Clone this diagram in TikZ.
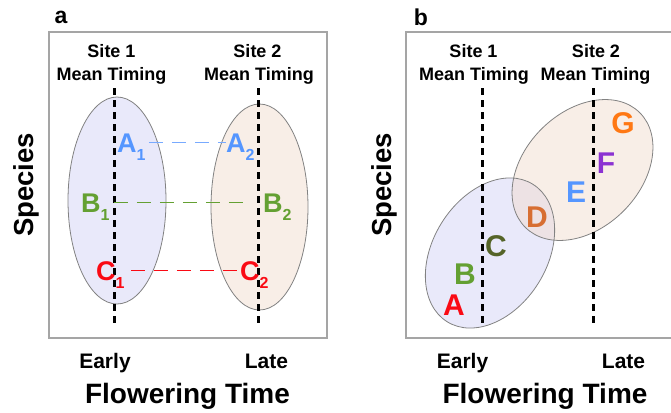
\documentclass[tikz,border=0pt]{standalone}
\usepackage{fontspec}
\setmainfont{Liberation Sans}
\definecolor{boxgray}{RGB}{165,165,165}
\definecolor{ellgray}{RGB}{130,130,130}
\definecolor{bluefill}{RGB}{233,233,250}
\definecolor{orangefill}{RGB}{248,238,231}
\definecolor{orangebase}{RGB}{241,221,207}
\definecolor{cA}{RGB}{85,150,255}
\definecolor{cAline}{RGB}{120,170,255}
\definecolor{cB}{RGB}{100,160,50}
\definecolor{cR}{RGB}{250,10,20}
\definecolor{cC}{RGB}{85,100,40}
\definecolor{cD}{RGB}{215,110,50}
\definecolor{cE}{RGB}{85,150,255}
\definecolor{cF}{RGB}{140,50,210}
\definecolor{cG}{RGB}{255,120,20}
\newcommand{\sbs}[1]{\raisebox{-8pt}{\fontsize{16}{16}\selectfont #1}}
\begin{document}
\begin{tikzpicture}[x=1pt,y=-1pt,
  panelbox/.style={draw=boxgray, line width=1.2pt},
  ellborder/.style={draw=ellgray, line width=0.8pt},
  meanline/.style={line width=3pt, dash pattern=on 7pt off 5pt},
  link/.style={line width=1.6pt, dash pattern=on 14pt off 9pt},
  paneltag/.style={inner sep=0pt, font=\fontsize{23}{23}\selectfont\bfseries},
  sitelbl/.style={inner sep=0pt, anchor=base, font=\fontsize{18}{18}\selectfont\bfseries},
  axlbl/.style={inner sep=0pt, anchor=base, font=\fontsize{21}{21}\selectfont\bfseries},
  axtitle/.style={inner sep=0pt, anchor=base, font=\fontsize{28}{28}\selectfont\bfseries},
  sptitle/.style={inner sep=0pt, anchor=base, rotate=90, font=\fontsize{27.5}{27.5}\selectfont\bfseries},
  sublet/.style={inner sep=0pt, anchor=base west, text height=19.3pt, text depth=0pt, font=\fontsize{27}{27}\selectfont\bfseries},
  biglet/.style={inner sep=0pt, font=\fontsize{30}{30}\selectfont\bfseries}
]
\useasboundingbox (0,0) rectangle (671,412);

% ---------------- Panel a ----------------
\node[paneltag] (taga) at (61,17) {a};
\draw[panelbox] (49,32) rectangle (327,338);
\fill[bluefill] (117,200.5) ellipse [x radius=49pt, y radius=103.5pt];
\fill[orangefill] (259.5,207) ellipse [x radius=48.5pt, y radius=103pt];
\draw[ellborder] (117,200.5) ellipse [x radius=49pt, y radius=103.5pt];
\draw[ellborder] (259.5,207) ellipse [x radius=48.5pt, y radius=103pt];

\node[sitelbl] (s1a) at (111.5,58) {Site 1};
\node[sitelbl] (m1a) at (111.5,80) {Mean Timing};
\node[sitelbl] (s2a) at (257.5,58) {Site 2};
\node[sitelbl] (m2a) at (259,80) {Mean Timing};

\coordinate (l1at) at (114,88);
\coordinate (l1ab) at (114,327);
\coordinate (l2at) at (258,88);
\coordinate (l2ab) at (258,327);
\draw[meanline] (l1at) -- (l1ab);
\draw[meanline] (l2at) -- (l2ab);

\node[sublet, text=cA] (A1) at (117,152) {A\sbs{1}};
\node[sublet, text=cA] (A2) at (226,152) {A\sbs{2}};
\node[sublet, text=cB] (B1) at (81,212) {B\sbs{1}};
\node[sublet, text=cB] (B2) at (263,212) {B\sbs{2}};
\node[sublet, text=cR] (C1) at (96,280) {C\sbs{1}};
\node[sublet, text=cR] (C2) at (240,280) {C\sbs{2}};

\draw[link, cAline, shorten <=3pt] (A1.east) -- (A2.west);
\draw[link, cB, shorten <=4pt, shorten >=12pt] (B1.east) -- (B2.west);
\draw[link, cR, shorten <=6pt, shorten >=1pt] (C1.east) -- (C2.west);

\node[sptitle] (spa) at (33,185) {Species};
\node[axlbl] (ea) at (105,368) {Early};
\node[axlbl] (la) at (266.5,368) {Late};
\node[axtitle] (fta) at (187.5,403) {Flowering Time};

% ---------------- Panel b ----------------
\node[paneltag] (tagb) at (421,17) {b};
\draw[panelbox] (672,32) -- (406,32) -- (406,338) -- (672,338);
\fill[bluefill, rotate around={58:(490,253)}] (490,253) ellipse [x radius=81pt, y radius=57pt];
\fill[orangebase, fill opacity=0.5, rotate around={45:(582.5,170)}] (582.5,170) ellipse [x radius=81pt, y radius=58pt];
\draw[ellborder, rotate around={58:(490,253)}] (490,253) ellipse [x radius=81pt, y radius=57pt];
\draw[ellborder, rotate around={45:(582.5,170)}] (582.5,170) ellipse [x radius=81pt, y radius=58pt];

\node[sitelbl] (s1b) at (473.5,58) {Site 1};
\node[sitelbl] (m1b) at (474,80) {Mean Timing};
\node[sitelbl] (s2b) at (596,58) {Site 2};
\node[sitelbl] (m2b) at (595.5,80) {Mean Timing};

\coordinate (l1bt) at (482,88);
\coordinate (l1bb) at (482,325);
\coordinate (l2bt) at (593,88);
\coordinate (l2bb) at (593,325);
\draw[meanline] (l1bt) -- (l1bb);
\draw[meanline] (l2bt) -- (l2bb);

\node[biglet, text=cR] (Ab) at (454,305) {A};
\node[biglet, text=cB] (Bb) at (465,274) {B};
\node[biglet, text=cC] (Cb) at (496,246) {C};
\node[biglet, text=cD] (Db) at (537,217) {D};
\node[biglet, text=cE] (Eb) at (576,192) {E};
\node[biglet, text=cF] (Fb) at (606,163) {F};
\node[biglet, text=cG] (Gb) at (623,123) {G};

\node[sptitle] (spb) at (391,185) {Species};
\node[axlbl] (eb) at (462.5,368) {Early};
\node[axlbl] (lb) at (623.5,368) {Late};
\node[axtitle] (ftb) at (545,403) {Flowering Time};
\end{tikzpicture}
\end{document}
